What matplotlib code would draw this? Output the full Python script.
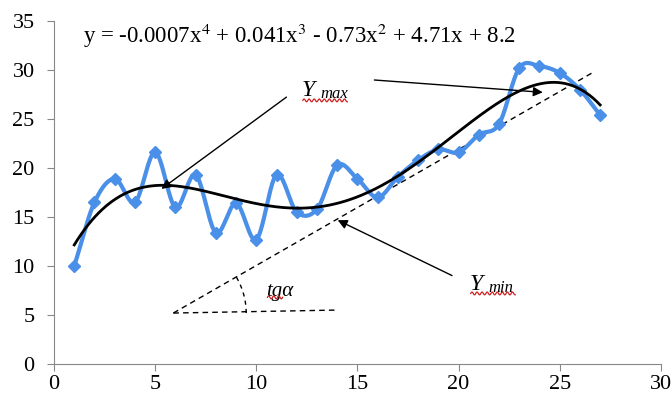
import numpy as np
import matplotlib.pyplot as plt

plt.rcParams['font.family'] = ['Liberation Serif', 'DejaVu Serif']
plt.rcParams['mathtext.fontset'] = 'stix'

x = np.arange(1, 28)
y = [10.0, 16.5, 18.9, 16.5, 21.6, 16.0, 19.3, 13.4, 16.4, 12.7,
     19.3, 15.5, 15.8, 20.3, 18.9, 17.0, 19.1, 20.8, 21.9, 21.6,
     23.4, 24.5, 30.2, 30.4, 29.7, 28.0, 25.4]

eq_text = "y = -0.0007x$^{4}$ + 0.041x$^{3}$ - 0.73x$^{2}$ + 4.71x + 8.2"

# tangent line and angle helper
tan_x = [5.9, 26.6]
tan_y = [5.2, 29.7]
base_x = [5.9, 13.9]
base_y = [5.2, 5.5]


def smooth(xs, ys, n=20):
    # catmull-rom, roughly what excel does for "smoothed line"
    xs = np.asarray(xs, float)
    ys = np.asarray(ys, float)
    px = np.concatenate([[2 * xs[0] - xs[1]], xs, [2 * xs[-1] - xs[-2]]])
    py = np.concatenate([[2 * ys[0] - ys[1]], ys, [2 * ys[-1] - ys[-2]]])
    ox, oy = [], []
    t = np.linspace(0, 1, n, endpoint=False)
    for i in range(1, len(px) - 2):
        for p, o in ((px, ox), (py, oy)):
            p0, p1, p2, p3 = p[i - 1], p[i], p[i + 1], p[i + 2]
            o.extend(0.5 * (2 * p1 + (-p0 + p2) * t
                            + (2 * p0 - 5 * p1 + 4 * p2 - p3) * t ** 2
                            + (-p0 + 3 * p1 - 3 * p2 + p3) * t ** 3))
    ox.append(xs[-1])
    oy.append(ys[-1])
    return np.array(ox), np.array(oy)


def squiggle(ax, x0, x1, y0):
    # red spell-check underline like in word
    xx = np.linspace(x0, x1, 60)
    ax.plot(xx, y0 + 0.15 * np.sin((xx - x0) * 2 * np.pi / 0.25),
            color="#d02020", lw=0.9, zorder=5)


fig = plt.figure(figsize=(6.72, 4.0), dpi=100)
ax = fig.add_axes([0.0804, 0.09, 0.903, 0.8575])

blue = "#4A8FE8"
sx, sy = smooth(x, y)
ax.plot(sx, sy, color=blue, lw=3.0, zorder=2)
ax.plot(x, y, ls="none", marker="D", ms=6.5, color=blue, zorder=3)

coef = np.polyfit(x, y, 4)
fx = np.linspace(1, 27, 300)
ax.plot(fx, np.polyval(coef, fx), color="black", lw=2.0, zorder=4)

ax.plot(tan_x, tan_y, color="black", ls=(0, (4, 3)), lw=1.0, zorder=1)
ax.plot(base_x, base_y, color="black", ls=(0, (4, 3)), lw=1.0, zorder=1)
ang = np.linspace(0.0, 0.55, 30)
ax.plot(5.9 + 3.6 * np.cos(ang), 5.2 + 7.3 * np.sin(ang),
        color="black", ls=(0, (3, 3)), lw=1.0)

arrow = dict(arrowstyle="-|>", color="black", lw=1.0, mutation_scale=14)
ax.annotate("", xy=(5.2, 17.7), xytext=(11.6, 27.4), arrowprops=arrow)
ax.annotate("", xy=(24.3, 27.7), xytext=(15.7, 29.0), arrowprops=arrow)
ax.annotate("", xy=(13.9, 14.8), xytext=(19.8, 8.9), arrowprops=arrow)

ax.text(12.25, 27.3, "Y", fontsize=17, style="italic", va="baseline")
ax.text(13.15, 27.1, "max", fontsize=12, style="italic", va="baseline")
squiggle(ax, 12.3, 14.5, 26.9)
ax.text(20.55, 7.55, "Y", fontsize=17, style="italic", va="baseline")
ax.text(21.45, 7.35, "min", fontsize=12, style="italic", va="baseline")
squiggle(ax, 20.6, 22.8, 7.2)
ax.text(10.5, 6.9, "tg\u03b1", fontsize=15, style="italic", va="baseline")
squiggle(ax, 10.55, 11.3, 6.8)
ax.text(1.45, 32.75, eq_text, fontsize=16.5, va="baseline")

ax.set_xlim(0, 30)
ax.set_ylim(0, 35)
ax.set_xticks(range(0, 31, 5))
ax.set_yticks(range(0, 36, 5))
for s in ("top", "right"):
    ax.spines[s].set_visible(False)
for s in ("left", "bottom"):
    ax.spines[s].set_color("#888888")
ax.tick_params(colors="#888888", labelcolor="black", labelsize=16, length=5)
ax.tick_params(axis="y", pad=9)
ax.tick_params(axis="x", pad=3)

fig.savefig("out.png", dpi=100)
